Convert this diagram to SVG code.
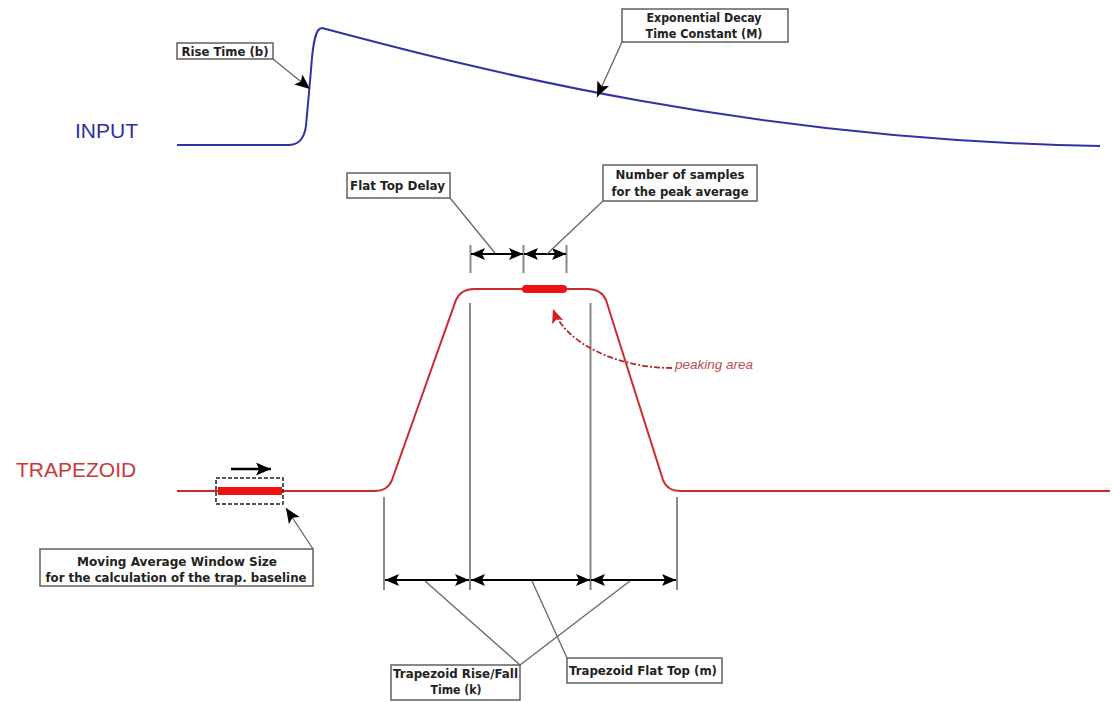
<svg xmlns="http://www.w3.org/2000/svg" width="1112" height="702" viewBox="0 0 1112 702">
<style>
.box{fill:#fff;stroke:#606060;stroke-width:1.5}
.lbl{font-family:"DejaVu Sans","Liberation Sans",sans-serif;font-weight:bold;font-size:12px;fill:#222}
.lead{stroke:#666;stroke-width:1.3;fill:none}
.dim{stroke:#000;stroke-width:2;fill:none;marker-start:url(#dh);marker-end:url(#dh)}
.tick{stroke:#888;stroke-width:2}
.sig{font-family:"Liberation Sans",Arial,sans-serif;font-size:21px}
</style>
<defs>
<marker id="dh" viewBox="0 0 14 12" refX="14" refY="6" markerWidth="14" markerHeight="12" markerUnits="userSpaceOnUse" orient="auto-start-reverse">
<path d="M0,0 L14,6 L0,12 L3,6 z" fill="#000"/>
</marker>
<marker id="la" viewBox="0 0 14 12" refX="14" refY="6" markerWidth="15" markerHeight="13" markerUnits="userSpaceOnUse" orient="auto">
<path d="M0,0 L14,6 L0,12 L3,6 z" fill="#000"/>
</marker>
<marker id="ra" viewBox="0 0 14 12" refX="14" refY="6" markerWidth="14" markerHeight="12" markerUnits="userSpaceOnUse" orient="auto">
<path d="M0,0 L14,6 L0,12 L3,6 z" fill="#d42020"/>
</marker>
</defs>
<rect width="1112" height="702" fill="#fff"/>

<g id="signals">
<path id="input-curve" d="M177,145 L288,145 C298,145 304,140 306,126 L311,70 C313,40 316,28 322,28 C480,70 750,140 1100,146" fill="none" stroke="#3232a8" stroke-width="2"/>
<text x="75" y="137.5" class="sig" fill="#2e2ea6">INPUT</text>
<path id="trap-curve" d="M177,491 L374,491 Q388,491 392,480 L456,300 Q461,289 474,289 L588,289 Q601,289 606,300 L663,480 Q667,491 681,491 L1110,491" fill="none" stroke="#cc2a2e" stroke-width="2"/>
<text x="16" y="477" class="sig" font-size="22" fill="#c83a3a">TRAPEZOID</text>
<line x1="526" y1="289" x2="563" y2="289" stroke="#ee1111" stroke-width="8" stroke-linecap="round"/>
<line x1="218" y1="491" x2="282" y2="491" stroke="#ee1111" stroke-width="8"/>
<rect x="216" y="478" width="67" height="26" fill="none" stroke="#222" stroke-width="1.5" stroke-dasharray="4 2"/>
<line x1="231" y1="469" x2="271" y2="469" stroke="#000" stroke-width="2.5" marker-end="url(#la)"/>
</g>

<g id="connectors">
<line class="tick" x1="470.5" y1="245" x2="470.5" y2="273"/>
<line class="tick" x1="523.5" y1="245" x2="523.5" y2="273"/>
<line class="tick" x1="566.5" y1="245" x2="566.5" y2="273"/>
<line class="dim" x1="471" y1="254" x2="523" y2="254"/>
<line class="dim" x1="524" y1="254" x2="566" y2="254"/>
<line class="tick" x1="384" y1="497" x2="384" y2="590"/>
<line class="tick" x1="470" y1="303" x2="470" y2="590"/>
<line class="tick" x1="590.5" y1="303" x2="590.5" y2="590"/>
<line class="tick" x1="677" y1="497" x2="677" y2="590"/>
<line class="dim" x1="385" y1="580" x2="469" y2="580"/>
<line class="dim" x1="471" y1="580" x2="590" y2="580"/>
<line class="dim" x1="591" y1="580" x2="676" y2="580"/>
<line class="lead" x1="273" y1="59" x2="310" y2="89" marker-end="url(#la)"/>
<line class="lead" x1="622" y1="42" x2="597" y2="97" marker-end="url(#la)"/>
<line class="lead" x1="450" y1="198" x2="495" y2="253"/>
<line class="lead" x1="603" y1="201" x2="547" y2="254"/>
<line class="lead" x1="313" y1="549" x2="286" y2="508" marker-end="url(#la)"/>
<line class="lead" x1="425" y1="581" x2="520" y2="665"/>
<line class="lead" x1="630" y1="581" x2="520" y2="665"/>
<line class="lead" x1="532" y1="581" x2="567" y2="658"/>
<path d="M672,368 C620,368 566,345 553,309" fill="none" stroke="#b02a2a" stroke-width="1.8" stroke-dasharray="6 2 2 2" marker-end="url(#ra)"/>
</g>

<g id="rise-time">
<rect class="box" x="177" y="43" width="96" height="16"/>
<text class="lbl" x="225" y="55.5" text-anchor="middle" textLength="87" lengthAdjust="spacingAndGlyphs">Rise Time (b)</text>
</g>
<g id="exp-decay">
<rect class="box" x="622" y="9" width="166" height="33"/>
<text class="lbl" x="704" y="22" text-anchor="middle" textLength="115" lengthAdjust="spacingAndGlyphs">Exponential Decay</text>
<text class="lbl" x="704" y="37.5" text-anchor="middle" textLength="117" lengthAdjust="spacingAndGlyphs">Time Constant  (M)</text>
</g>
<g id="flat-top-delay">
<rect class="box" x="347" y="173" width="103" height="25"/>
<text class="lbl" x="397.5" y="189.5" text-anchor="middle" textLength="95" lengthAdjust="spacingAndGlyphs">Flat Top Delay</text>
</g>
<g id="num-samples">
<rect class="box" x="603" y="165" width="154" height="36"/>
<text class="lbl" x="680" y="179" text-anchor="middle" textLength="129" lengthAdjust="spacingAndGlyphs">Number of samples</text>
<text class="lbl" x="680" y="195.5" text-anchor="middle" textLength="137" lengthAdjust="spacingAndGlyphs">for the peak average</text>
</g>
<g id="moving-avg">
<rect class="box" x="40" y="549" width="273" height="37"/>
<text class="lbl" x="177" y="565.5" text-anchor="middle" textLength="200" lengthAdjust="spacingAndGlyphs">Moving Average Window Size</text>
<text class="lbl" x="176" y="582" text-anchor="middle" textLength="261" lengthAdjust="spacingAndGlyphs">for the calculation of the trap. baseline</text>
</g>
<g id="rise-fall">
<rect class="box" x="391" y="665" width="129" height="35"/>
<text class="lbl" x="455.5" y="677.5" text-anchor="middle" textLength="125" lengthAdjust="spacingAndGlyphs">Trapezoid Rise/Fall</text>
<text class="lbl" x="456" y="693.5" text-anchor="middle" textLength="51" lengthAdjust="spacingAndGlyphs">Time (k)</text>
</g>
<g id="flat-top">
<rect class="box" x="567" y="658" width="155" height="25"/>
<text class="lbl" x="643" y="674.5" text-anchor="middle" textLength="148" lengthAdjust="spacingAndGlyphs">Trapezoid Flat Top (m)</text>
</g>
<g id="peaking">
<text x="675" y="369" font-family="'Liberation Sans',Arial,sans-serif" font-style="italic" font-size="13.5" fill="#c0504d">peaking area</text>
</g>
</svg>
